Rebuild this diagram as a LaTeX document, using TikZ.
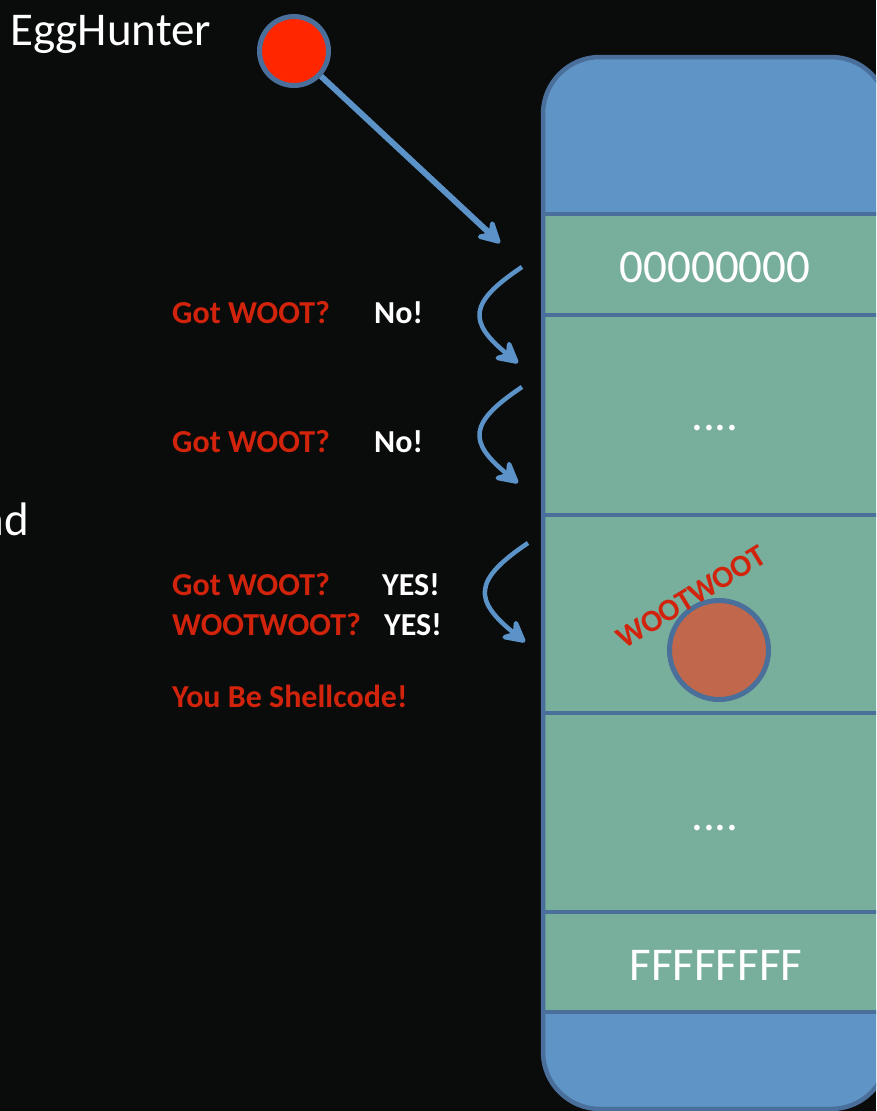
\documentclass[tikz,border=0pt]{standalone}
\usepackage{fontspec}
\setmainfont{Carlito}
\usetikzlibrary{arrows.meta}
\definecolor{bg}{HTML}{0A0B0B}
\definecolor{memblue}{HTML}{5E94C6}
\definecolor{memgreen}{HTML}{78AE9C}
\definecolor{edgeblue}{HTML}{4A6F9A}
\definecolor{arrowblue}{HTML}{5B93C9}
\definecolor{wootred}{HTML}{D2230C}
\definecolor{eggred}{HTML}{FF2600}
\definecolor{eggbrown}{HTML}{C0674C}
\tikzset{
  bigtext/.style={font=\fontsize{47}{56}\selectfont, text=white, inner sep=0pt, anchor=base},
  redtext/.style={font=\bfseries\fontsize{32}{38}\selectfont, text=wootred, inner sep=0pt, anchor=base west},
  whitetext/.style={redtext, text=white},
  tipshape/.style={-{Stealth[length=28pt,width=30pt,inset=10pt,round]}},
  hunterarrow/.style={draw=arrowblue, line width=6pt, tipshape},
  probe/.style={draw=arrowblue, line width=4.5pt, tipshape},
  membox/.style={draw=edgeblue, line width=4.5pt},
  ball/.style={circle, draw=edgeblue, line width=5pt, inner sep=0pt}
}
\begin{document}
\begin{tikzpicture}[x=1pt,y=-1pt]
\useasboundingbox (0,0) rectangle (876,1111);
\clip (0,0) rectangle (876,1111);
\fill[bg] (0,0) rectangle (876,1111);

% memory column
\begin{scope}
  \clip[rounded corners=57pt] (543,57) rectangle (888,1109);
  \fill[memgreen] (543,57) rectangle (888,1109);
  \fill[memblue] (543,57) rectangle (888,214);
  \fill[memblue] (543,1012) rectangle (888,1109);
\end{scope}
\foreach \yy in {214,315,515,713,912,1012}
  \draw[membox] (543,\yy) -- (888,\yy);
\draw[membox, rounded corners=57pt] (543,57) rectangle (888,1109);

% row labels
\node[bigtext] (low) at (715,282) {00000000};
\node[bigtext] (dotsA) at (715,430) {....};
\node[bigtext] (dotsB) at (715,830) {....};
\node[bigtext] (high) at (716,980) {FFFFFFFF};

% egg
\node[ball, fill=eggbrown, minimum size=99pt] (egg) at (719,650) {};
\node[font=\bfseries\fontsize{31}{36}\selectfont, text=wootred, rotate=31.5, inner sep=0pt] (tag) at (691,597) {WOOTWOOT};

% egg hunter
\node[font=\fontsize{47}{56}\selectfont, text=white, inner sep=0pt, anchor=base west] (title) at (10,45) {EggHunter};
\node[font=\fontsize{47}{56}\selectfont, text=white, inner sep=0pt, anchor=base east] (frag) at (29,535) {nd};
\node[ball, fill=eggred, minimum size=69pt] (hunter) at (294,51) {};
\coordinate (entry) at (500,243);
\draw[hunterarrow] (hunter) -- (entry);

% probes
\coordinate (s1) at (522,267);
\coordinate (e1) at (518,363);
\coordinate (s2) at (522,387);
\coordinate (e2) at (518,483);
\coordinate (s3) at (528,543);
\coordinate (e3) at (525,642);
\draw[probe] (s1) .. controls (468,303) and (468,322) .. (e1);
\draw[probe] (s2) .. controls (468,423) and (468,442) .. (e2);
\draw[probe] (s3) .. controls (473,580) and (473,600) .. (e3);

% dialogue
\node[redtext] (q1) at (172,323) {Got WOOT?};
\node[whitetext] (a1) at (374,323) {No!};
\node[redtext] (q2) at (172,452) {Got WOOT?};
\node[whitetext] (a2) at (374,452) {No!};
\node[redtext] (q3) at (172,595) {Got WOOT?};
\node[whitetext] (a3) at (382,595) {YES!};
\node[redtext] (q4) at (172,635) {WOOTWOOT?};
\node[whitetext] (a4) at (384,635) {YES!};
\node[redtext] (shell) at (172,707) {You Be Shellcode!};
\end{tikzpicture}
\end{document}
